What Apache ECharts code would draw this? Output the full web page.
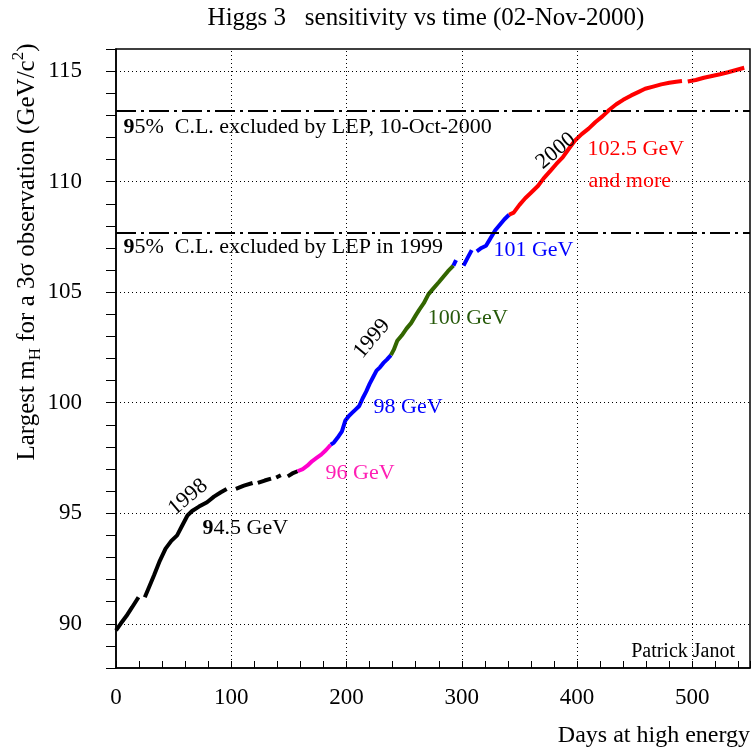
<!DOCTYPE html>
<html>
<head>
<meta charset="utf-8">
<script src="https://cdn.jsdelivr.net/npm/echarts@6/dist/echarts.min.js"></script>
<style>
html, body { margin: 0; background: #fff; }
#id_chart { width: 754px; height: 753px; }
</style>
</head>
<body>
<div id="id_chart"></div>
<script>
var chart = echarts.init(document.getElementById("id_chart"), null, { renderer: "canvas" });

var FONT = "Liberation Serif";

// days at high energy vs largest mH reachable, null = gap in the record
var blackDays = [0, 4, 9, 14, 19.5, 22, 25, 29, 33, 38, 43, 48, 53, 57, 62, 66, 72, 79, 85, 91, 96, 100, 104, 111, 118.5, 121, 123, 129, 134.5, 137, 139, 143, 146, 149, 153, 157.5];
var blackMass = [89.7, 90.0, 90.35, 90.75, 91.2, null, 91.2, 91.7, 92.2, 92.85, 93.4, 93.75, 94.0, 94.4, 94.9, 95.1, 95.3, 95.5, 95.75, 95.95, 96.1, null, 96.1, 96.25, 96.37, null, 96.37, 96.48, 96.57, null, 96.62, 96.72, null, 96.67, 96.8, 96.9];

var magentaDays = [157.5, 162, 166, 170, 174, 178, 182, 186.3];
var magentaMass = [96.9, 97.0, 97.15, 97.35, 97.5, 97.65, 97.85, 98.1];

var blueDays = [186.3, 189, 192, 196, 199, 202, 205, 208, 211, 214, 217, 220, 223, 226, 229, 232, 235, 238.5];
var blueMass = [98.1, 98.2, 98.4, 98.7, 99.2, 99.4, 99.55, 99.7, 99.85, 100.2, 100.5, 100.85, 101.15, 101.45, 101.6, 101.8, 101.95, 102.15];

var greenDays = [238.5, 241, 244, 248, 252, 256, 260, 263, 267, 271, 275, 280, 284, 288, 292.7];
var greenMass = [102.15, 102.4, 102.8, 103.05, 103.35, 103.6, 103.95, 104.2, 104.5, 104.9, 105.15, 105.45, 105.7, 105.95, 106.2];

var blue2Days = [292.7, 295, 298, 301.5, 305, 308.6, 311, 313, 317, 321, 325, 329, 333, 337, 341];
var blue2Mass = [106.2, 106.45, null, 106.2, 106.55, 106.9, null, 106.85, 107.0, 107.1, 107.45, 107.8, 108.05, 108.3, 108.5];

var redDays = [341, 345, 350, 355, 360, 366, 371, 377, 382, 387.5, 393, 398, 404, 410, 416, 422, 428, 434, 440, 447, 453, 459, 466, 473, 480, 486, 491, 493.5, 496, 503, 510, 517, 524, 531, 538, 545];
var redMass = [108.5, 108.6, 108.95, 109.25, 109.5, 109.8, 110.15, 110.5, 110.8, 111.1, 111.5, 111.85, 112.15, 112.4, 112.7, 112.95, 113.25, 113.5, 113.7, 113.9, 114.05, 114.2, 114.3, 114.4, 114.47, 114.52, 114.55, null, 114.53, 114.6, 114.7, 114.78, 114.86, 114.95, 115.05, 115.15];

// LEP 95% CL exclusions (2000, 1999)
var lepLimits = [113.2, 107.7];

// dotted grid positions
var gridDays = [100, 200, 300, 400, 500];
var gridMass = [90, 95, 100, 105, 110, 115];

function pairs(days, mass) {
	return days.map(function (d, i) {
		return [d, mass[i]];
	});
}

function curve(name, days, mass, color) {
	return {
		name: name,
		type: "line",
		data: pairs(days, mass),
		showSymbol: false,
		connectNulls: false,
		z: 3,
		lineStyle: { color: color, width: 4 },
		itemStyle: { color: color }
	};
}

function note(day, mass, text, color, extra) {
	var label = {
		show: true,
		formatter: text,
		position: "right",
		distance: 0,
		color: color,
		opacity: 1,
		fontFamily: FONT,
		fontSize: 22,
		rich: {
			b: { fontFamily: FONT, fontSize: 22, fontWeight: "bold", color: color }
		}
	};
	if (extra) Object.assign(label, extra);
	return { value: [day, mass], label: label };
}

function init() {
	var notes = [
		note(6, 112.47, "{b|9}5%  C.L. excluded by LEP, 10-Oct-2000", "#000"),
		note(6, 107.03, "{b|9}5%  C.L. excluded by LEP in 1999", "#000"),
		note(74.6, 94.33, "{b|9}4.5 GeV", "#000"),
		note(181.3, 96.81, "96 GeV", "#ff1fb4"),
		note(223, 99.79, "98 GeV", "#0000ff"),
		note(270, 103.8, "100 GeV", "#275a0a"),
		note(327, 106.88, "101 GeV", "#0000ff"),
		note(408.6, 111.48, "102.5 GeV", "#ff0000"),
		note(409.5, 110.04, "and more", "#ff0000"),
		note(62.5, 95.73, "1998", "#000", { position: "inside", rotate: 40 }),
		note(222, 102.9, "1999", "#000", { position: "inside", rotate: 50 }),
		note(381.7, 111.39, "2000", "#000", { position: "inside", rotate: 40 })
	];

	var gridLines = gridDays.map(function (d) { return { xAxis: d }; })
		.concat(gridMass.map(function (m) { return { yAxis: m }; }));

	var option = {
		animation: false,
		backgroundColor: "#fff",
		title: {
			text: "Higgs 3   sensitivity vs time (02-Nov-2000)",
			left: 421,
			top: 1,
			textAlign: "center",
			textStyle: { fontFamily: FONT, fontSize: 25, fontWeight: "normal", color: "#000" }
		},
		grid: {
			left: 116,
			right: 4,
			top: 49,
			bottom: 85,
			show: true,
			borderColor: "#000",
			borderWidth: 1.5,
			backgroundColor: "transparent"
		},
		xAxis: {
			type: "value",
			min: 0,
			max: 550,
			interval: 20,
			axisLine: { show: true, onZero: false, lineStyle: { color: "#000", width: 1.5 } },
			axisTick: { show: true, inside: true, length: 7, lineStyle: { color: "#000", width: 1 } },
			axisLabel: {
				margin: 18,
				color: "#000",
				fontFamily: FONT,
				fontSize: 23,
				formatter: function (v) { return v % 100 === 0 ? String(v) : ""; }
			},
			splitLine: { show: false }
		},
		yAxis: {
			type: "value",
			min: 88,
			max: 116,
			interval: 1,
			axisLine: { show: true, onZero: false, lineStyle: { color: "#000", width: 1.5 } },
			axisTick: { show: true, inside: false, length: 10, lineStyle: { color: "#000", width: 1 } },
			axisLabel: {
				margin: 34,
				color: "#000",
				fontFamily: FONT,
				fontSize: 23,
				formatter: function (v) { return v % 5 === 0 ? String(v) : ""; }
			},
			splitLine: { show: false }
		},
		graphic: [
			{
				type: "text",
				x: 27,
				y: 252,
				rotation: Math.PI / 2,
				style: {
					text: "Largest m{sub|H} for a 3σ observation (GeV/c{sup|2})",
					fill: "#000",
					font: "25px 'Liberation Serif'",
					fontFamily: FONT,
					fontSize: 25,
					lineHeight: 34,
					align: "center",
					verticalAlign: "middle",
					textAlign: "center",
					textVerticalAlign: "middle",
					rich: {
						sub: { fontFamily: FONT, fontSize: 17, lineHeight: 16, verticalAlign: "bottom", fill: "#000" },
						sup: { fontFamily: FONT, fontSize: 17, lineHeight: 16, verticalAlign: "top", fill: "#000" }
					}
				}
			},
			{
				type: "text",
				x: 750,
				y: 736,
				style: {
					text: "Days at high energy",
					fill: "#000",
					font: "24px 'Liberation Serif'",
					align: "right",
					verticalAlign: "middle",
					textAlign: "right",
					textVerticalAlign: "middle"
				}
			},
			{
				type: "text",
				x: 735,
				y: 652,
				style: {
					text: "Patrick Janot",
					fill: "#000",
					font: "20px 'Liberation Serif'",
					align: "right",
					verticalAlign: "middle",
					textAlign: "right",
					textVerticalAlign: "middle"
				}
			}
		],
		series: [
			{
				name: "grid",
				type: "line",
				data: [],
				z: 1,
				markLine: {
					silent: true,
					symbol: "none",
					label: { show: false },
					lineStyle: { color: "#000", width: 1, type: [1, 3] },
					data: gridLines
				}
			},
			{
				name: "LEP",
				type: "line",
				data: [],
				z: 4,
				markLine: {
					silent: true,
					symbol: "none",
					label: { show: false },
					lineStyle: { color: "#000", width: 2, type: [20, 5, 3, 5] },
					data: lepLimits.map(function (m) { return { yAxis: m }; })
				}
			},
			curve("94.5 GeV", blackDays, blackMass, "#000000"),
			curve("96 GeV", magentaDays, magentaMass, "#ff00cc"),
			curve("98 GeV", blueDays, blueMass, "#0000ff"),
			curve("100 GeV", greenDays, greenMass, "#336600"),
			curve("101 GeV", blue2Days, blue2Mass, "#0000ff"),
			curve("102.5 GeV", redDays, redMass, "#ff0000"),
			{
				name: "notes",
				type: "scatter",
				silent: true,
				symbolSize: 1,
				z: 5,
				itemStyle: { color: "rgba(0,0,0,0)", opacity: 1 },
				data: notes
			}
		]
	};
	chart.setOption(option);
}

init();
</script>
</body>
</html>
